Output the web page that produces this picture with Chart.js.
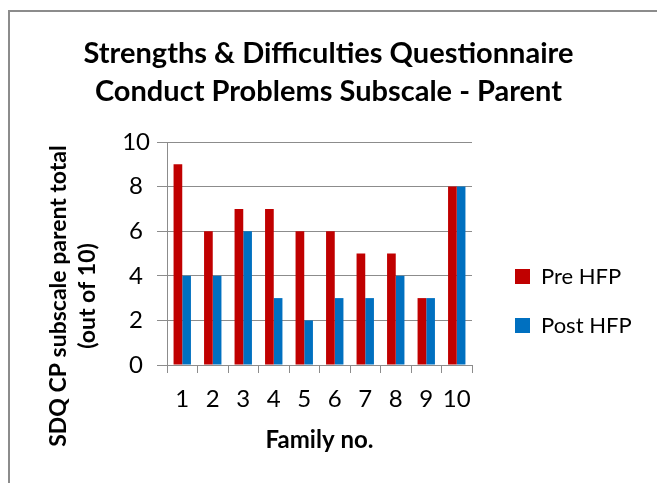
<!DOCTYPE html>
<html><head><meta charset="utf-8">
<script src="https://cdn.jsdelivr.net/npm/chart.js@4"></script>
<style>
html,body{margin:0;padding:0;background:#fff;overflow:hidden;width:657px;height:483px}
#frame{position:absolute;left:8px;top:10px;width:700px;height:600px;border:2px solid #8c8c8c;box-sizing:border-box}
#wrap{position:absolute;left:0;top:0;width:657px;height:483px}
</style></head><body>
<div id="frame"></div>
<div id="wrap"><canvas id="c" width="657" height="483"></canvas></div>
<script>
const families = ['1','2','3','4','5','6','7','8','9','10'];
const preHFP  = [9,6,7,7,6,6,5,5,3,8];
const postHFP = [4,4,6,3,2,3,3,4,3,8];
const seriesNames = ['Pre HFP','Post HFP'];
const seriesColors = ['#C00000','#0070C0'];
const titleLines = ['Strengths & Difficulties Questionnaire','Conduct Problems Subscale - Parent'];
const yTitleLines = ['SDQ CP subscale parent total','(out of 10)'];
const xTitle = 'Family no.';
const yMin = 0, yMax = 10, yStep = 2;

const gray = '#8c8c8c';

// Legend placement (fixed width, lowered like the original) and a y-axis title centred on the figure
const placement = {
  id: 'placement',
  beforeLayout(chart) {
    const lg = chart.legend;
    if (lg && !lg._patched) {
      const fit = lg.fit.bind(lg);
      lg.fit = function () { fit(); this.width = 169; };
      lg._patched = true;
    }
  },
  afterLayout(chart) {
    if (chart.legend) chart.legend.top += 119;
  },
  afterDraw(chart) {
    const ctx = chart.ctx;
    const yc = 296;
    const xs = [59, 88];
    ctx.save();
    ctx.fillStyle = '#000';
    ctx.font = 'bold 23px Lato';
    ctx.textAlign = 'center';
    ctx.textBaseline = 'middle';
    yTitleLines.forEach((line, i) => {
      ctx.save();
      ctx.translate(xs[i], yc);
      ctx.rotate(-Math.PI / 2);
      ctx.fillText(line, 0, 0);
      ctx.restore();
    });
    ctx.restore();
  }
};

new Chart(document.getElementById('c'), {
  type: 'bar',
  data: {
    labels: families,
    datasets: [
      {label: seriesNames[0], data: preHFP, backgroundColor: seriesColors[0], borderWidth: 0},
      {label: seriesNames[1], data: postHFP, backgroundColor: seriesColors[1], borderWidth: 0}
    ]
  },
  plugins: [placement],
  options: {
    responsive: false,
    animation: false,
    categoryPercentage: 0.57,
    barPercentage: 1.0,
    layout: {padding: {left: 0, right: 0, top: 0, bottom: 0}},
    plugins: {
      tooltip: {enabled: false},
      title: {
        display: true, text: titleLines, color: '#000',
        font: {family: 'Lato', size: 29, weight: 'bold', lineHeight: 38/29},
        padding: {top: 35, bottom: 31}
      },
      legend: {
        position: 'right',
        labels: {
          boxWidth: 15, boxHeight: 15, padding: 27, color: '#000',
          font: {family: 'Lato', size: 22}
        }
      }
    },
    scales: {
      x: {
        grid: {drawOnChartArea: false, drawTicks: true, tickLength: 8, color: gray},
        border: {color: gray},
        ticks: {color: '#000', font: {family: 'Lato', size: 24}, padding: 12, maxRotation: 0, minRotation: 0, autoSkip: false},
        title: {display: true, text: xTitle, color: '#000',
          font: {family: 'Lato', size: 24, weight: 'bold', lineHeight: 28/24},
          padding: {top: 0, bottom: 29}},
        afterFit: s => { s.height = 118; }
      },
      y: {
        min: yMin, max: yMax,
        grid: {color: gray, tickLength: 10},
        border: {color: gray},
        ticks: {stepSize: yStep, color: '#000', font: {family: 'Lato', size: 24}, padding: 7, crossAlign: 'center'},
        afterFit: s => { s.width = 167; }
      },
      gap: {
        axis: 'y', position: 'right', display: true,
        grid: {display: false}, border: {display: false}, ticks: {display: false},
        afterFit: s => { s.width = 16; }
      }
    }
  }
});
</script>
</body></html>
